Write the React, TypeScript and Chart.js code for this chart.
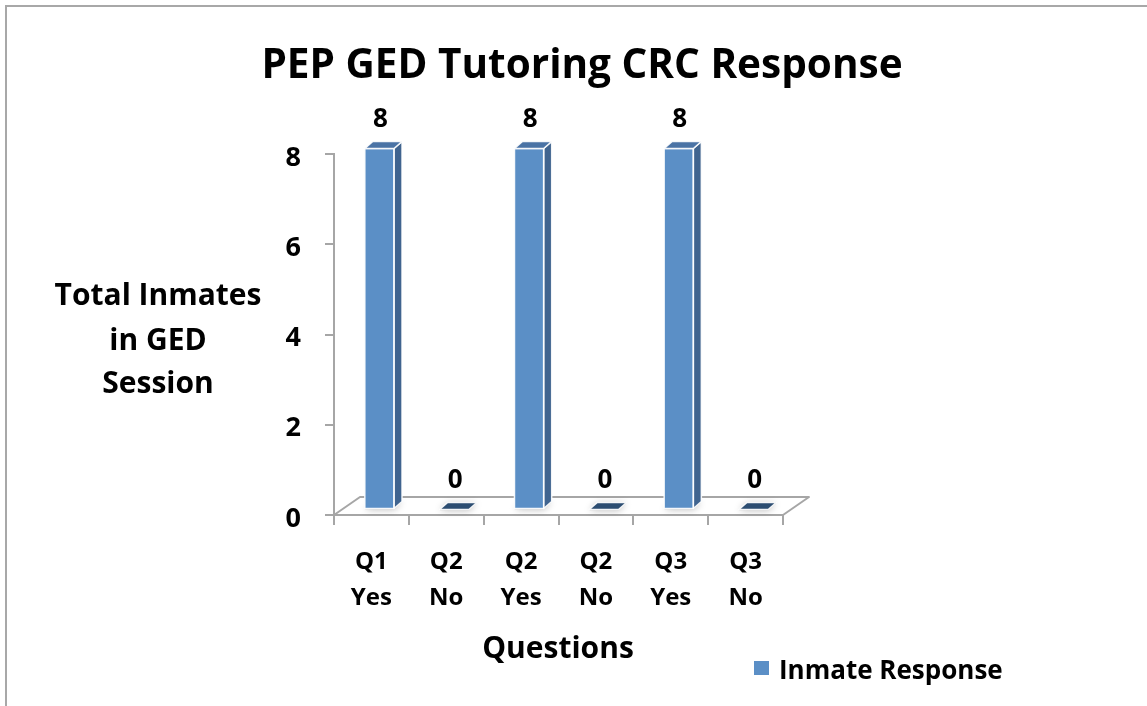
import React, { useEffect, useRef } from 'react';
import { Chart, registerables } from 'chart.js';

Chart.register(...registerables);

// ---------- data ----------
const categories: string[][] = [
  ['Q1', 'Yes'],
  ['Q2', 'No'],
  ['Q2', 'Yes'],
  ['Q2', 'No'],
  ['Q3', 'Yes'],
  ['Q3', 'No'],
];
const inmateResponse: number[] = [8, 0, 8, 0, 8, 0];
const seriesName = 'Inmate Response';
const chartTitle = 'PEP GED Tutoring CRC Response';
const yTitleLines: string[] = ['Total Inmates', 'in GED', 'Session'];
const xTitle = 'Questions';
const yMin = 0;
const yMax = 8;
const yStep = 2;

// ---------- styles ----------
const FONT = '"Open Sans", Lato, sans-serif';
const FRONT = '#5B8FC6';
const SIDE = '#40648F';
const TOP = '#4A73A5';
const ZERO_TOP = '#2C4D71';
const AXIS = '#A6A6A6';
const BAR_DX = 8;
const BAR_DY = 7;
const SHIFT_X = 8;
const SHIFT_Y = 5.5;
const FLOOR_DX = 26;
const FLOOR_DY = 18;

const threeDPlugin = {
  id: 'threeD',
  beforeDatasetsDraw(chart: any) {
    const { ctx, chartArea: ca } = chart;
    ctx.save();
    ctx.beginPath();
    ctx.moveTo(ca.left, ca.bottom);
    ctx.lineTo(ca.right, ca.bottom);
    ctx.lineTo(ca.right + FLOOR_DX, ca.bottom - FLOOR_DY);
    ctx.lineTo(ca.left + FLOOR_DX, ca.bottom - FLOOR_DY);
    ctx.closePath();
    ctx.fillStyle = '#ffffff';
    ctx.fill();
    ctx.strokeStyle = AXIS;
    ctx.lineWidth = 2;
    ctx.lineJoin = 'round';
    ctx.stroke();
    ctx.restore();

    // soft shadows at the base of each bar
    const meta = chart.getDatasetMeta(0);
    meta.data.forEach((bar: any) => {
      const { x, base, width } = bar.getProps(['x', 'base', 'width'], true);
      const l = x - width / 2 + SHIFT_X;
      const r = x + width / 2 + SHIFT_X;
      const b = base - SHIFT_Y;
      ctx.save();
      ctx.shadowColor = 'rgba(0,0,0,0.45)';
      ctx.shadowBlur = 7;
      ctx.fillStyle = 'rgba(200,200,200,0.6)';
      ctx.beginPath();
      ctx.moveTo(l, b + 1);
      ctx.lineTo(r, b + 1);
      ctx.lineTo(r + BAR_DX, b + 1 - BAR_DY);
      ctx.lineTo(l + BAR_DX, b + 1 - BAR_DY);
      ctx.closePath();
      ctx.fill();
      ctx.restore();
    });

    ctx.save();
    ctx.translate(SHIFT_X, -SHIFT_Y);
  },
  afterDatasetsDraw(chart: any) {
    const { ctx } = chart;
    const meta = chart.getDatasetMeta(0);
    meta.data.forEach((bar: any) => {
      const { x, y, base, width } = bar.getProps(['x', 'y', 'base', 'width'], true);
      const l = x - width / 2;
      const r = x + width / 2;
      const h = base - y;
      ctx.lineWidth = 1.5;
      ctx.strokeStyle = 'rgba(255,255,255,0.9)';
      ctx.lineJoin = 'round';
      if (h > 0.5) {
        ctx.beginPath();
        ctx.moveTo(r, y);
        ctx.lineTo(r + BAR_DX, y - BAR_DY);
        ctx.lineTo(r + BAR_DX, base - BAR_DY);
        ctx.lineTo(r, base);
        ctx.closePath();
        ctx.fillStyle = SIDE;
        ctx.fill();
        ctx.stroke();
        ctx.strokeRect(l, y, width, h);
      }
      ctx.beginPath();
      ctx.moveTo(l, y);
      ctx.lineTo(r, y);
      ctx.lineTo(r + BAR_DX, y - BAR_DY);
      ctx.lineTo(l + BAR_DX, y - BAR_DY);
      ctx.closePath();
      ctx.fillStyle = h > 0.5 ? TOP : ZERO_TOP;
      ctx.fill();
      ctx.stroke();
    });
    ctx.restore();

    // data labels
    ctx.save();
    ctx.fillStyle = '#000';
    ctx.font = `bold 26px ${FONT}`;
    ctx.textAlign = 'center';
    ctx.textBaseline = 'middle';
    meta.data.forEach((bar: any, i: number) => {
      const { x, y } = bar.getProps(['x', 'y'], true);
      ctx.fillText(String(inmateResponse[i]), x + SHIFT_X + 1, y - SHIFT_Y - 29);
    });
    ctx.restore();
  },
  afterDraw(chart: any) {
    const { ctx } = chart;
    ctx.save();
    ctx.fillStyle = '#000';
    ctx.textAlign = 'center';
    ctx.textBaseline = 'alphabetic';
    ctx.font = `bold 40.5px ${FONT}`;
    ctx.fillText(chartTitle, 582, 78);
    ctx.font = `bold 30px ${FONT}`;
    const baselines = [305, 350, 393];
    yTitleLines.forEach((t, i) => ctx.fillText(t, 158, baselines[i]));
    ctx.font = `bold 30px ${FONT}`;
    ctx.fillText(xTitle, 558, 658);
    ctx.fillStyle = FRONT;
    ctx.fillRect(754, 661, 15, 14);
    ctx.fillStyle = '#000';
    ctx.textAlign = 'left';
    ctx.font = `bold 26px ${FONT}`;
    ctx.fillText(seriesName, 779, 679);
    ctx.restore();
  },
};

export default function App() {
  const canvasRef = useRef<HTMLCanvasElement | null>(null);

  useEffect(() => {
    const canvas = canvasRef.current;
    if (!canvas) return;
    const chart = new Chart(canvas, {
      type: 'bar',
      data: {
        labels: categories,
        datasets: [
          {
            label: seriesName,
            data: inmateResponse,
            backgroundColor: FRONT,
            borderWidth: 0,
            categoryPercentage: 1,
            barPercentage: 0.39,
            clip: false as any,
          },
        ],
      },
      options: {
        animation: false,
        responsive: false,
        maintainAspectRatio: false,
        layout: { padding: { top: 154, right: 364, left: 0, bottom: 0 } },
        plugins: {
          legend: { display: false },
          title: { display: false },
          tooltip: { enabled: false },
        },
        scales: {
          x: {
            offset: true,
            border: { display: false },
            grid: {
              offset: true,
              drawOnChartArea: false,
              drawTicks: true,
              tickLength: 10,
              color: AXIS,
              lineWidth: 2,
            },
            ticks: {
              color: '#000',
              font: { family: FONT, size: 24, weight: 'bold', lineHeight: 1.5 },
              padding: 19,
              maxRotation: 0,
              autoSkip: false,
            },
            afterFit: (scale: any) => {
              scale.height = 191;
            },
          },
          y: {
            min: yMin,
            max: yMax,
            border: { display: true, color: AXIS, width: 2 },
            grid: {
              drawOnChartArea: false,
              drawTicks: true,
              tickLength: 9,
              color: AXIS,
              lineWidth: 2,
            },
            ticks: {
              stepSize: yStep,
              color: '#000',
              font: { family: FONT, size: 27, weight: 'bold' },
              padding: 24,
              labelOffset: 4,
            },
            afterFit: (scale: any) => {
              scale.width = 334;
            },
          },
        },
      },
      plugins: [threeDPlugin],
    });
    return () => chart.destroy();
  }, []);

  return (
    <div
      style={{
        position: 'fixed',
        left: 0,
        top: 0,
        width: 1147,
        height: 706,
        overflow: 'hidden',
        background: '#fff',
      }}
    >
      <canvas ref={canvasRef} width={1147} height={706} style={{ position: 'absolute', left: 0, top: 0 }} />
      <div
        style={{
          position: 'absolute',
          left: 5,
          top: 5,
          width: 1300,
          height: 900,
          borderLeft: '2px solid #A8A8A8',
          borderTop: '2px solid #A8A8A8',
          pointerEvents: 'none',
        }}
      />
    </div>
  );
}
